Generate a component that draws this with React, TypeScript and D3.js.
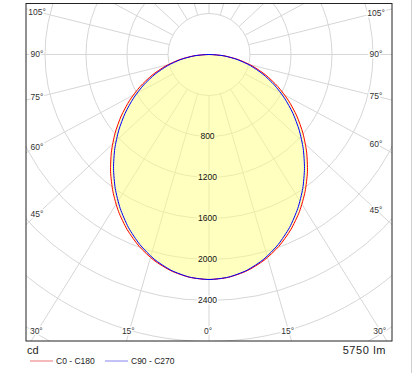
import * as d3 from 'd3'

// luminous intensity (cd), gamma 0..90
const gammaAngles = [0, 5, 10, 15, 20, 25, 30, 35, 40, 45, 50, 55, 60, 65, 70, 75, 80, 85, 90]
const c0c180 = [2195, 2182, 2142, 2078, 1992, 1887, 1767, 1634, 1494, 1347, 1197, 1046, 894, 742, 592, 442, 294, 147, 0]
const c90c270 = [2195, 2180, 2137, 2067, 1973, 1861, 1733, 1595, 1449, 1300, 1149, 999, 850, 704, 559, 417, 277, 138, 0]

const ringValues = [400, 800, 1200, 1600, 2000, 2400, 2800, 3200]
const ringLabels = [800, 1200, 1600, 2000, 2400]
const spokeAngles = d3.range(0, 360, 15)
const angleLabels = [0, 15, 30, 45, 60, 75, 90, 105]
const fluxLabel = '5750 lm'
const unitLabel = 'cd'
const series = [
  { name: 'C0 - C180', color: '#ff0000', legend: '#f08a8a' },
  { name: 'C90 - C270', color: '#0000ff', legend: '#9a9af0' },
]

const W = 413
const H = 373
const frame = { x0: 26, y0: 3.5, x1: 392, y1: 341 }
const cx = 209
const cy = 54.5
const squash = 0.93
const font = '"Liberation Sans", Arial, sans-serif'

const r = d3.scaleLinear().domain([0, 400]).range([0, 41])

function dir(deg: number) {
  const t = (deg * Math.PI) / 180
  const dx = Math.sin(t)
  const dy = squash * Math.cos(t)
  const n = Math.hypot(dx, dy)
  return [dx / n, dy / n]
}

// where an angle's spoke meets the label band just inside the frame
function labelPos(deg: number, side: number) {
  const [dx0, dy] = dir(deg)
  const dx = dx0 * side
  if (deg < 90) {
    const tb = (331 - cy) / dy
    const xb = cx + dx * tb
    if (xb > 36 && xb < 382) return [xb - 1, 331]
  }
  const bx = side < 0 ? 37 : 376
  const t = (bx - cx) / dx
  return [bx, cy + dy * t]
}

function curvePath(vals: number[]) {
  const pts: [number, number][] = []
  gammaAngles.forEach((g, i) => pts.push([Math.PI - (g * Math.PI) / 180, r(vals[i])]))
  for (let i = gammaAngles.length - 2; i > 0; i--) {
    pts.push([Math.PI + (gammaAngles[i] * Math.PI) / 180, r(vals[i])])
  }
  return d3.lineRadial().angle(d => d[0]).radius(d => d[1]).curve(d3.curveCardinalClosed.tension(0.3))(pts) || ''
}

export default function App() {
  const outer = curvePath(c0c180)
  const labels: { text: string; x: number; y: number }[] = []
  angleLabels.forEach(a => {
    const sides = a === 0 ? [1] : [-1, 1]
    sides.forEach(s => {
      const [x, y] = labelPos(a, s)
      labels.push({ text: `${a}°`, x, y })
    })
  })

  return (
    <svg width={W} height={H} style={{ position: 'absolute', left: 0, top: 0, background: '#fff' }}>
      <defs>
        <clipPath id="frame">
          <rect x={frame.x0} y={frame.y0} width={frame.x1 - frame.x0} height={frame.y1 - frame.y0} />
        </clipPath>
      </defs>
      <line x1={411.5} x2={411.5} y1={0} y2={H} stroke="#d0d0d0" />
      <g clipPath="url(#frame)">
        <g transform={`translate(${cx},${cy})`}>
          {ringValues.map(v => (
            <circle key={v} r={r(v)} fill="none" stroke="#d6d6d6" strokeWidth={1} />
          ))}
          {spokeAngles.map(a => {
            const [dx, dy] = dir(a)
            return (
              <line key={a} x1={dx * r(400)} y1={dy * r(400)} x2={dx * 700} y2={dy * 700}
                stroke="#d6d6d6" strokeWidth={1} />
            )
          })}
          <path d={outer} fill="#ffff80" fillOpacity={0.5} stroke="none" />
          <path d={curvePath(c0c180)} fill="none" stroke={series[0].color} strokeWidth={1} />
          <path d={curvePath(c90c270)} fill="none" stroke={series[1].color} strokeWidth={1} />
          {ringLabels.map(v => (
            <text key={v} x={-1.5} y={r(v)} dy="0.35em" textAnchor="middle" fontFamily={font} fontSize={8.5}
              fill="#111" stroke={r(v) < r(c0c180[0]) ? '#ffffc0' : '#fff'} strokeWidth={3}
              style={{ paintOrder: 'stroke' }}>{v}</text>
          ))}
        </g>
        {labels.map((l, i) => (
          <text key={i} x={l.x} y={l.y} dy="0.35em" textAnchor="middle" fontFamily={font} fontSize={8.5}
            fill="#333" stroke="#fff" strokeWidth={3} style={{ paintOrder: 'stroke' }}>{l.text}</text>
        ))}
      </g>
      <rect x={frame.x0} y={frame.y0} width={frame.x1 - frame.x0} height={frame.y1 - frame.y0}
        fill="none" stroke="#222" strokeWidth={1} />
      <text x={27} y={354} fontFamily={font} fontSize={11} fill="#222">{unitLabel}</text>
      <text x={386} y={354} textAnchor="end" fontFamily={font} fontSize={11} letterSpacing={0.6} fill="#222">{fluxLabel}</text>
      {series.map((s, i) => (
        <g key={s.name} transform={`translate(${30 + i * 75},361)`}>
          <line x1={0} x2={23} y1={0} y2={0} stroke={s.legend} strokeWidth={1.2} />
          <text x={26} y={0} dy="0.35em" fontFamily={font} fontSize={8.5} fill="#222">{s.name}</text>
        </g>
      ))}
    </svg>
  )
}
